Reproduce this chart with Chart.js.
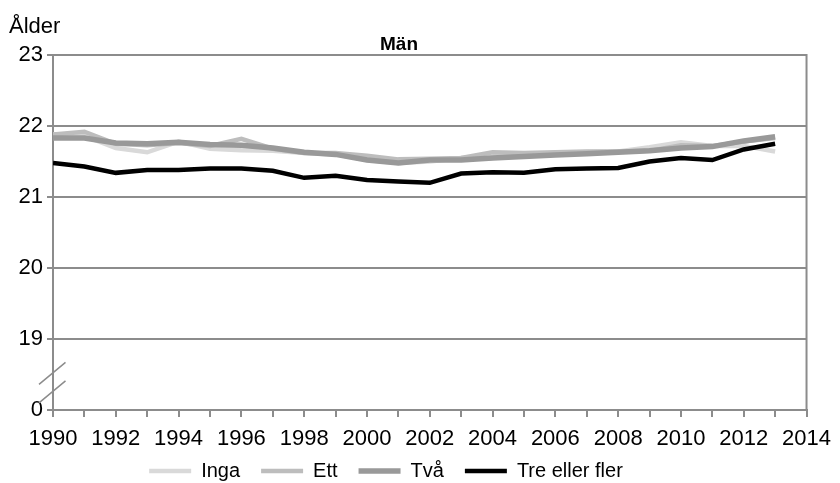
<!DOCTYPE html>
<html>
<head>
<meta charset="utf-8">
<script src="https://cdn.jsdelivr.net/npm/chart.js@4.4.0/dist/chart.umd.min.js"></script>
<style>
  html, body { margin: 0; padding: 0; background: #fff; }
  #wrap { width: 840px; height: 483px; }
</style>
</head>
<body>
<div id="wrap"><canvas id="c" width="840" height="483"></canvas></div>
<script>
const years = [1990,1991,1992,1993,1994,1995,1996,1997,1998,1999,2000,2001,2002,2003,2004,2005,2006,2007,2008,2009,2010,2011,2012,2013];
const inga = [21.88,21.86,21.69,21.63,21.78,21.68,21.66,21.65,21.62,21.60,21.52,21.48,21.50,21.55,21.57,21.60,21.62,21.63,21.64,21.70,21.77,21.72,21.72,21.64];
const ett  = [21.88,21.92,21.75,21.73,21.76,21.72,21.82,21.68,21.62,21.62,21.58,21.53,21.54,21.55,21.63,21.62,21.63,21.64,21.64,21.65,21.73,21.72,21.78,21.83];
const tva  = [21.83,21.83,21.76,21.75,21.77,21.74,21.73,21.69,21.63,21.60,21.52,21.48,21.52,21.52,21.55,21.57,21.59,21.61,21.63,21.65,21.69,21.71,21.79,21.85];
const tre  = [21.48,21.43,21.34,21.38,21.38,21.40,21.40,21.37,21.27,21.30,21.24,21.22,21.20,21.33,21.35,21.34,21.39,21.40,21.41,21.50,21.55,21.52,21.67,21.75];
const seriesNames = ['Inga','Ett','Två','Tre eller fler'];
const yTickValues = [18,19,20,21,22,23];
const yTickLabels = ['0','19','20','21','22','23'];
const title = 'Män';
const yTitle = 'Ålder';

const FONT = "'Liberation Sans', Arial, sans-serif";
const GRID = '#8c8c8c';

function pts(arr) { return years.map((y, i) => ({ x: y, y: arr[i] })); }

const decor = {
  id: 'decor',
  afterLayout(chart) {
    const lg = chart.legend;
    if (lg) { lg.left -= 20; lg.right -= 20; lg.top -= 10; lg.bottom = chart.height; lg.height = lg.bottom - lg.top; }
  },
  afterDraw(chart) {
    const ctx = chart.ctx;
    const a = chart.chartArea;
    const ys = chart.scales.y;
    ctx.save();
    ctx.strokeStyle = GRID;
    ctx.lineWidth = 2;
    ctx.beginPath();
    ctx.moveTo(a.right, a.top - 1);
    ctx.lineTo(a.right, a.bottom);
    ctx.stroke();
    ctx.lineWidth = 1.5;
    ctx.beginPath();
    ctx.moveTo(a.left - 14, ys.getPixelForValue(18.36));
    ctx.lineTo(a.left + 12.5, ys.getPixelForValue(18.67));
    ctx.moveTo(a.left - 14, ys.getPixelForValue(18.10));
    ctx.lineTo(a.left + 12.5, ys.getPixelForValue(18.41));
    ctx.stroke();
    ctx.fillStyle = '#000';
    ctx.textBaseline = 'alphabetic';
    ctx.textAlign = 'left';
    ctx.font = "22px " + FONT;
    ctx.fillText(yTitle, 9, 33);
    ctx.textAlign = 'center';
    ctx.font = "bold 19px " + FONT;
    ctx.fillText(title, 399, 50);
    ctx.restore();
  }
};

new Chart(document.getElementById('c'), {
  type: 'line',
  data: {
    datasets: [
      { label: seriesNames[0], data: pts(inga), borderColor: '#d9d9d9', backgroundColor: '#d9d9d9', borderWidth: 4.5, order: 3 },
      { label: seriesNames[1], data: pts(ett),  borderColor: '#bdbdbd', backgroundColor: '#bdbdbd', borderWidth: 4.5, order: 2 },
      { label: seriesNames[2], data: pts(tva),  borderColor: '#999999', backgroundColor: '#999999', borderWidth: 5.5, order: 1 },
      { label: seriesNames[3], data: pts(tre),  borderColor: '#000000', backgroundColor: '#000000', borderWidth: 4.5, order: 0 }
    ]
  },
  options: {
    responsive: false,
    animation: false,
    devicePixelRatio: 1,
    elements: { point: { radius: 0 }, line: { tension: 0, borderCapStyle: 'butt', borderJoinStyle: 'miter' } },
    layout: { padding: { left: 0, right: 28, top: 55, bottom: 0 } },
    scales: {
      x: {
        type: 'linear',
        min: 1990, max: 2014,
        afterFit(s) { s.height = 40; },
        afterBuildTicks(s) { const t = []; for (let v = 1990; v <= 2014; v++) t.push({ value: v }); s.ticks = t; },
        ticks: {
          autoSkip: false, maxRotation: 0, padding: 9,
          color: '#000', font: { family: FONT, size: 22 },
          callback: v => (v % 2 === 0 ? String(v) : '')
        },
        grid: { drawOnChartArea: false, drawTicks: true, tickLength: 7, color: GRID, lineWidth: 2 },
        border: { display: true, color: GRID, width: 2 }
      },
      y: {
        type: 'linear',
        min: 18, max: 23,
        afterFit(s) { s.width = 53; },
        afterBuildTicks(s) { s.ticks = yTickValues.map(v => ({ value: v })); },
        ticks: {
          padding: 4, color: '#000', font: { family: FONT, size: 22 },
          callback: v => yTickLabels[yTickValues.indexOf(v)]
        },
        grid: { color: GRID, lineWidth: 2, tickLength: 6 },
        border: { display: true, color: GRID, width: 2 }
      }
    },
    plugins: {
      title: { display: false },
      tooltip: { enabled: false },
      legend: {
        position: 'bottom',
        maxHeight: 33,
        labels: {
          usePointStyle: true, pointStyle: 'line', pointStyleWidth: 42,
          padding: 21, color: '#000',
          font: { family: FONT, size: 20 },
          sort: (a, b) => a.datasetIndex - b.datasetIndex
        }
      }
    }
  },
  plugins: [decor]
});
</script>
</body>
</html>
